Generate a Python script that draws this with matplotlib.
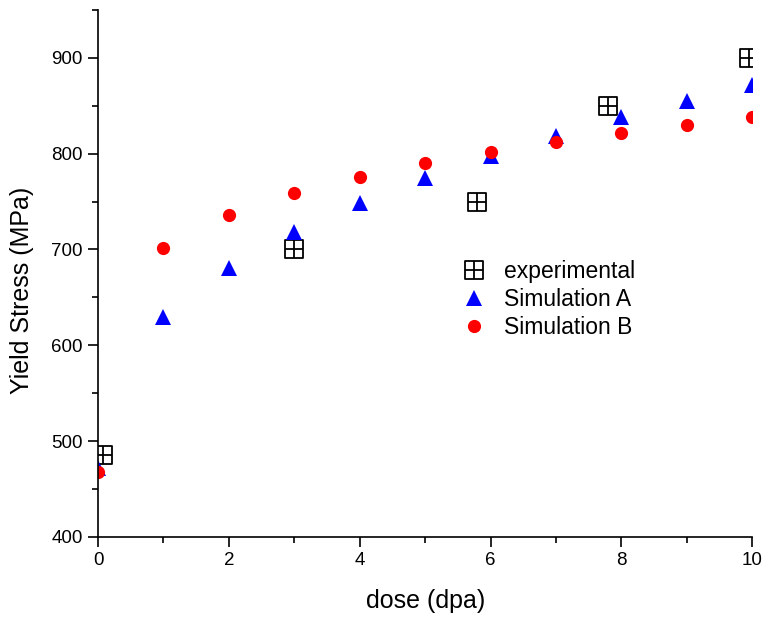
import matplotlib
matplotlib.use("Agg")
import matplotlib.pyplot as plt
import numpy as np
from matplotlib.path import Path
from matplotlib.ticker import MultipleLocator

plt.rcParams['font.family'] = ['Liberation Sans', 'DejaVu Sans']

# data
exp_dose = [0.07, 3.0, 5.8, 7.8, 9.95]
exp_stress = [485, 700, 750, 850, 900]

sim_dose = [0, 1, 2, 3, 4, 5, 6, 7, 8, 9, 10]
sim_a = [472, 630, 681, 718, 748, 775, 798, 818, 838, 855, 872]
sim_b = [468, 702, 736, 759, 776, 790, 802, 812, 822, 830, 838]

# square with a cross inside
verts = [(-1, -1), (1, -1), (1, 1), (-1, 1), (-1, -1),
         (0, -1), (0, 1), (-1, 0), (1, 0)]
codes = [Path.MOVETO, Path.LINETO, Path.LINETO, Path.LINETO, Path.CLOSEPOLY,
         Path.MOVETO, Path.LINETO, Path.MOVETO, Path.LINETO]
boxplus = Path(verts, codes)

fig = plt.figure(figsize=(7.66, 6.2), dpi=100)
ax = fig.add_axes([0.128, 0.134, 0.854, 0.850])

ax.plot(exp_dose, exp_stress, linestyle='none', marker=boxplus, markersize=13.5,
        markerfacecolor='none', markeredgecolor='black', markeredgewidth=1.3,
        label='experimental')
ax.plot(sim_dose, sim_a, linestyle='none', marker='^', markersize=11.5,
        color='blue', markeredgewidth=0, label='Simulation A')
ax.plot(sim_dose, sim_b, linestyle='none', marker='o', markersize=9.5,
        color='red', markeredgewidth=0, label='Simulation B')

ax.set_xlim(0, 10)
ax.set_ylim(400, 950)
ax.xaxis.set_major_locator(MultipleLocator(2))
ax.xaxis.set_minor_locator(MultipleLocator(1))
ax.yaxis.set_major_locator(MultipleLocator(100))
ax.yaxis.set_minor_locator(MultipleLocator(50))

for s in ['top', 'right']:
    ax.spines[s].set_visible(False)
for s in ['left', 'bottom']:
    ax.spines[s].set_linewidth(1.2)

ax.tick_params(which='major', direction='out', length=7.5, width=1.2, labelsize=13.5)
ax.tick_params(which='minor', direction='out', length=4, width=1.2)

ax.set_xlabel('dose (dpa)', fontsize=18, labelpad=14)
ax.set_ylabel('Yield Stress (MPa)', fontsize=18)
ax.yaxis.set_label_coords(-0.098, 0.467)

ax.legend(loc='center left', bbox_to_anchor=(0.54, 0.45), frameon=False,
          fontsize=16.5, handletextpad=0.3, labelspacing=0.22, borderpad=0,
          borderaxespad=0)

fig.savefig('out.png', dpi=100)
